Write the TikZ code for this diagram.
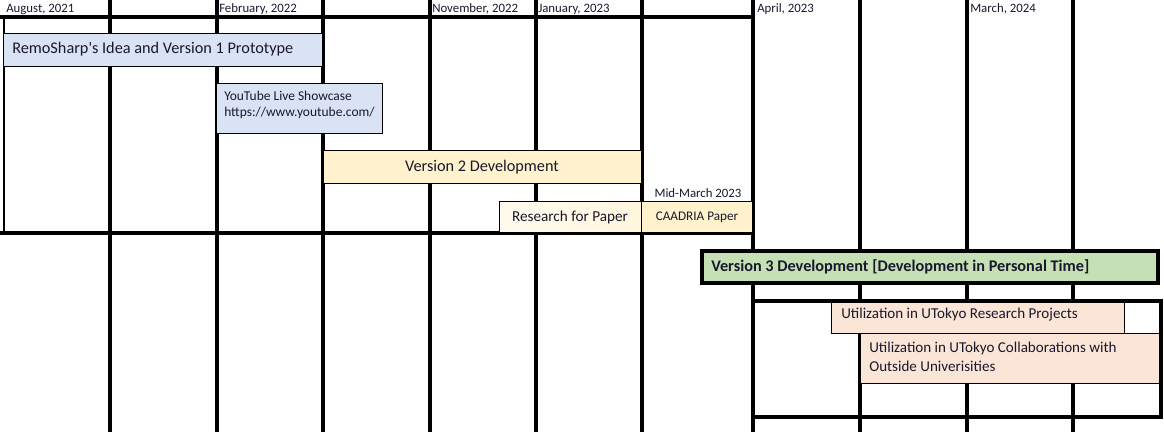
\documentclass[tikz,border=0pt]{standalone}
\usepackage{fontspec}
\setmainfont{Carlito}
\usepackage{xcolor}
\definecolor{txtc}{RGB}{25,25,45}
\definecolor{bluefill}{RGB}{218,227,243}
\definecolor{yelfill}{RGB}{255,242,204}
\definecolor{greenfill}{RGB}{197,224,180}
\definecolor{peachfill}{RGB}{251,229,214}
\tikzset{
  gridline/.style={line width=3pt},
  thinline/.style={line width=0.9pt},
  barbox/.style={draw=black, line width=0.75pt},
  datelbl/.style={inner sep=0pt, anchor=west, text=txtc, font=\fontsize{9.6}{11}\selectfont},
  barlbl/.style={inner sep=0pt, text=txtc, font=\fontsize{12.2}{14}\selectfont},
  smalllbl/.style={inner sep=0pt, text=txtc, align=left, font=\fontsize{11.3}{14.3}\selectfont}
}
\begin{document}
\begin{tikzpicture}[x=0.75pt,y=0.75pt,yscale=-1,xscale=1]
\useasboundingbox (0,0) rectangle (1164,432);

%Month columns
\foreach \xx in {110,217,323,430,536,642,753,860,967,1073}
  \draw [gridline] (\xx,0) -- (\xx,432) ;
%Straight Lines: upper block
\draw [gridline] (0,17) -- (754.5,17) ;
\draw [gridline] (0,233) -- (754.5,233) ;
\draw [thinline] (4,17) -- (4,233) ;
%Straight Lines: lower block
\draw [gridline] (753,301) -- (1161,301) -- (1161,417) -- (753,417) ;

%Shape: Bars
\draw [barbox, fill=bluefill] (3,33) rectangle (322,66) ;
\draw [barbox, fill=bluefill] (216,83) rectangle (382,133) ;
\draw [barbox, fill=yelfill] (323,150) rectangle (641,183) ;
\draw [barbox, left color=yelfill!35, right color=yelfill!65] (499,201) rectangle (641,232) ;
\draw [barbox, fill=yelfill] (641,201) rectangle (752,232) ;
\draw [line width=2.6pt, fill=greenfill] (702,251) rectangle (1158,283) ;
\draw [barbox, fill=peachfill] (831,302) rectangle (1124,333) ;
\draw [barbox, fill=peachfill] (860,333) rectangle (1159,383) ;

% Text Node
\node [datelbl] (aug21) at (6,9) {August, 2021};
% Text Node
\node [datelbl] (feb22) at (219,9) {February, 2022};
% Text Node
\node [datelbl] (nov22) at (432,9) {November, 2022};
% Text Node
\node [datelbl] (jan23) at (538,9) {January, 2023};
% Text Node
\node [datelbl] (apr23) at (757,9) {April, 2023};
% Text Node
\node [datelbl] (mar24) at (970,9) {March, 2024};
% Text Node
\node [barlbl, anchor=west] (remo) at (12,49) {RemoSharp\textquotesingle s Idea and Version 1 Prototype};
% Text Node
\node [smalllbl, anchor=west, font=\fontsize{10.1}{12.2}\selectfont] (ytube) at (224,105) {YouTube Live Showcase\\https://www.youtube.com/};
% Text Node
\node [barlbl] (vtwo) at (482,167) {Version 2 Development};
% Text Node
\node [datelbl, anchor=center] (midmar) at (698,193) {Mid-March 2023};
% Text Node
\node [barlbl, font=\fontsize{11.4}{13}\selectfont] (research) at (570,217) {Research for Paper};
% Text Node
\node [datelbl, anchor=center, font=\fontsize{9.9}{11}\selectfont] (caadria) at (697,217) {CAADRIA Paper};
% Text Node
\node [barlbl, anchor=west, font=\fontsize{12.2}{14}\selectfont\bfseries] (vthree) at (711,267) {Version 3 Development [Development in Personal Time]};
% Text Node
\node [smalllbl, anchor=west] (utres) at (841,315) {Utilization in UTokyo Research Projects};
% Text Node
\node [smalllbl, anchor=west] (utcol) at (869,357) {Utilization in UTokyo Collaborations with\\Outside Univerisities};

\end{tikzpicture}
\end{document}
